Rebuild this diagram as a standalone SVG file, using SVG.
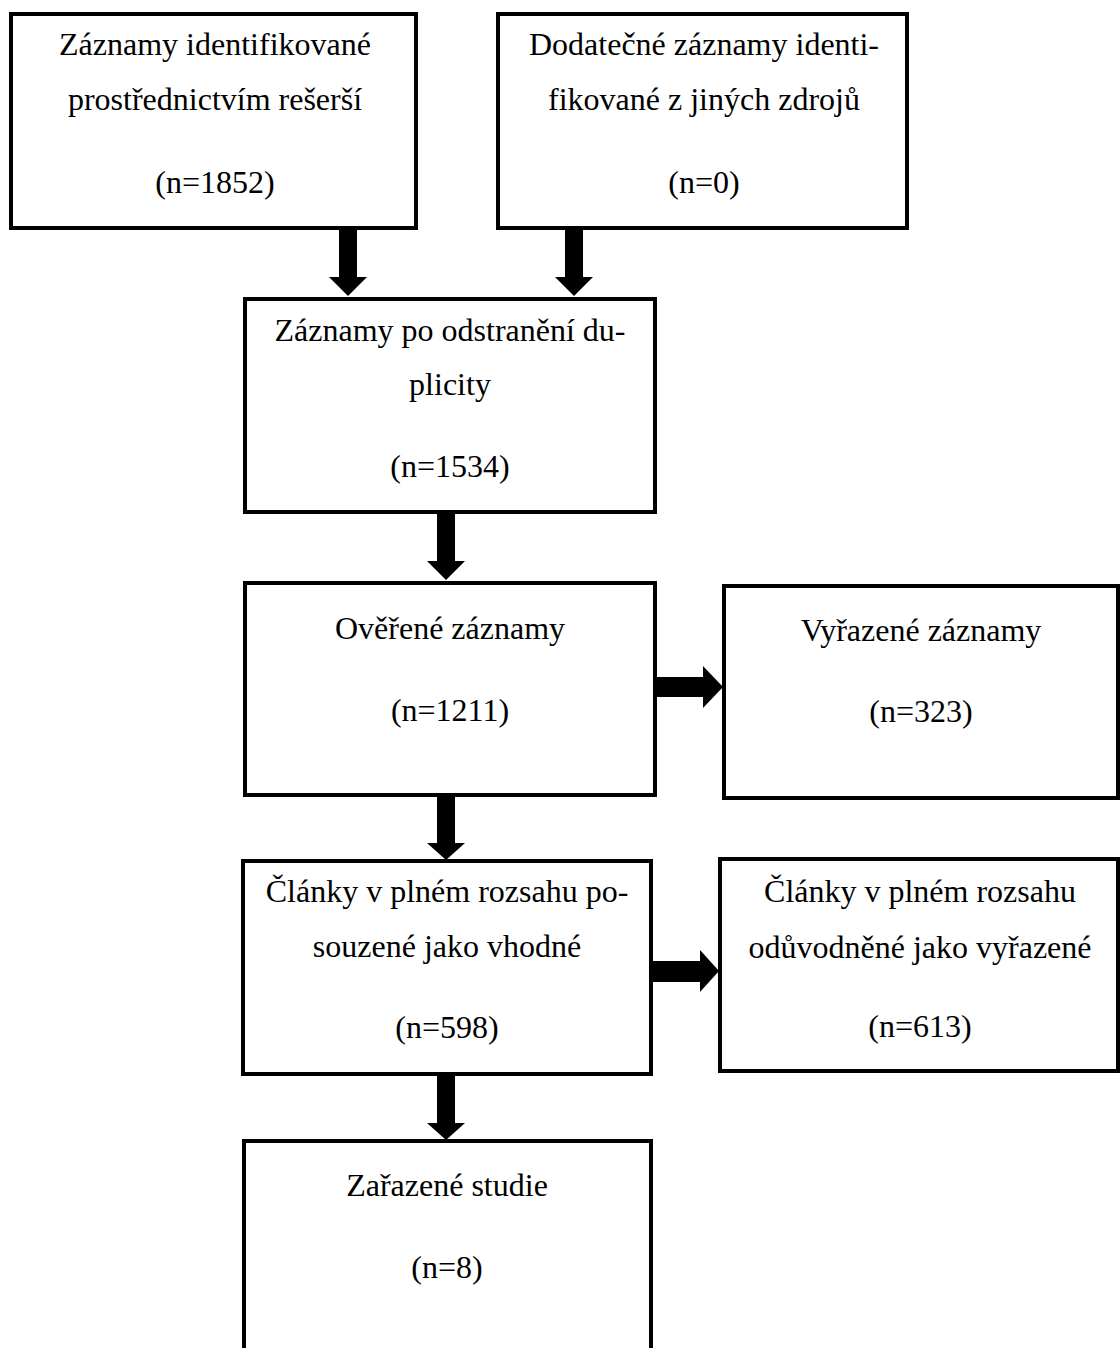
<svg xmlns="http://www.w3.org/2000/svg" width="1120" height="1348" viewBox="0 0 1120 1348">
<style>
.box{fill:#fff;stroke:#000;stroke-width:4}
.t{font-family:"Liberation Serif","Times New Roman",serif;font-size:32px;fill:#000;text-anchor:middle}
.arr{fill:#000}
</style>
<rect width="1120" height="1348" fill="#fff"/>
<g id="n1"><rect class="box" x="11" y="14" width="405" height="214"/>
<text class="t" x="215" y="55">Záznamy identifikované</text>
<text class="t" x="215" y="110">prostřednictvím rešerší</text>
<text class="t" x="215" y="193">(n=1852)</text></g>
<g id="n2"><rect class="box" x="498" y="14" width="409" height="214"/>
<text class="t" x="704" y="55">Dodatečné záznamy identi-</text>
<text class="t" x="704" y="110">fikované z jiných zdrojů</text>
<text class="t" x="704" y="193">(n=0)</text></g>
<g id="n3"><rect class="box" x="245" y="299" width="410" height="213"/>
<text class="t" x="450" y="341">Záznamy po odstranění du-</text>
<text class="t" x="450" y="395">plicity</text>
<text class="t" x="450" y="477">(n=1534)</text></g>
<g id="n4"><rect class="box" x="245" y="583" width="410" height="212"/>
<text class="t" x="450" y="639">Ověřené záznamy</text>
<text class="t" x="450" y="721">(n=1211)</text></g>
<g id="n5"><rect class="box" x="724" y="586" width="394" height="212"/>
<text class="t" x="921" y="641">Vyřazené záznamy</text>
<text class="t" x="921" y="722">(n=323)</text></g>
<g id="n6"><rect class="box" x="243" y="861" width="408" height="213"/>
<text class="t" x="447" y="902">Články v plném rozsahu po-</text>
<text class="t" x="447" y="957">souzené jako vhodné</text>
<text class="t" x="447" y="1038">(n=598)</text></g>
<g id="n7"><rect class="box" x="720" y="859" width="398" height="212"/>
<text class="t" x="920" y="902">Články v plném rozsahu</text>
<text class="t" x="920" y="958">odůvodněné jako vyřazené</text>
<text class="t" x="920" y="1037">(n=613)</text></g>
<g id="n8"><rect class="box" x="244" y="1141" width="407" height="230"/>
<text class="t" x="447" y="1196">Zařazené studie</text>
<text class="t" x="447" y="1278">(n=8)</text></g>
<g id="connectors">
<polygon class="arr" points="339,230 357,230 357,277 367,277 348,296 329,277 339,277"/>
<polygon class="arr" points="565,230 583,230 583,277 593,277 574,296 555,277 565,277"/>
<polygon class="arr" points="437,514 455,514 455,561 465,561 446,580 427,561 437,561"/>
<polygon class="arr" points="437,797 455,797 455,843 465,843 446,860 427,843 437,843"/>
<polygon class="arr" points="657,677 703,677 703,666 723,687 703,708 703,697 657,697"/>
<polygon class="arr" points="653,961 700,961 700,950 719,971 700,992 700,982 653,982"/>
<polygon class="arr" points="437,1076 455,1076 455,1123 465,1123 446,1140 427,1123 437,1123"/>
</g>
</svg>
